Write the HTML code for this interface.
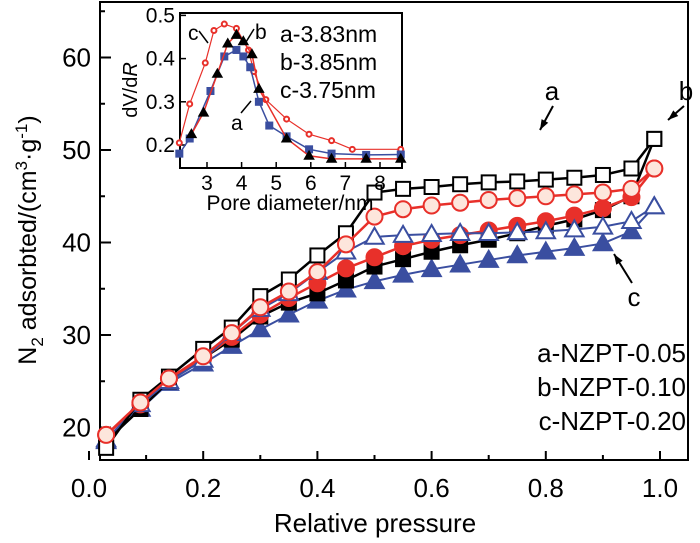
<!DOCTYPE html>
<html><head><meta charset="utf-8"><style>
body{margin:0;background:#fff}
svg{display:block;font-family:"Liberation Sans",Arial,sans-serif}
</style></head><body>
<svg id="c" width="700" height="543" viewBox="0 0 700 543"></svg>
<script>
const pressures=[0.03,0.09,0.14,0.2,0.25,0.3,0.35,0.4,0.45,0.5,0.55,0.6,0.65,0.7,0.75,0.8,0.85,0.9,0.95,0.99];
const aDes=[17.8,23,25.5,28.5,30.8,34.2,36,38.6,41,45.4,45.8,46,46.3,46.5,46.6,46.8,47,47.3,48,51.2];
const aAds=[18.5,22,25,27.5,29.5,32,33.5,34.5,35.9,37.4,38.2,39,39.7,40.3,41,41.8,42.5,43.5,45,51.2];
const bDes=[19.2,22.7,25.3,27.7,30.2,33,34.7,36.8,39.8,42.8,43.6,44,44.3,44.6,44.8,45,45.2,45.4,45.8,48];
const bAds=[19.2,22.5,25.3,27.5,29.8,32.2,34,35.6,37.2,38.4,39.6,40.3,40.8,41.3,41.8,42.3,42.9,43.7,44.9,48];
const cDes=[18.7,22.5,25,27.3,30.2,32.8,34.5,36.8,39,40.6,40.8,40.9,41,41,41.1,41.2,41.4,41.7,42.3,43.9];
const cAds=[18.5,22,24.8,26.9,28.8,30.6,32.2,33.7,34.9,35.8,36.5,37.1,37.6,38.1,38.6,39,39.4,39.9,41.2,43.9];
const xTicks=["0.0","0.2","0.4","0.6","0.8","1.0"];
const yTicks=[20,30,40,50,60];
const insA_x=[2.2,2.5,3.1,3.5,3.85,4.05,4.25,4.5,4.8,5.3,5.95,6.6,7.6,8.6];
const insA_y=[0.18,0.215,0.325,0.405,0.42,0.405,0.38,0.3,0.245,0.22,0.19,0.18,0.177,0.178];
const insB_x=[2.55,2.9,3.3,3.6,3.85,4.05,4.3,4.5,5.3,5.95,6.6,7.6,8.6];
const insB_y=[0.225,0.275,0.365,0.435,0.455,0.44,0.41,0.33,0.215,0.175,0.168,0.168,0.168];
const insC_x=[2.2,2.5,2.95,3.2,3.5,3.85,4.2,4.35,4.7,5.3,5.95,6.6,7.2,8.6];
const insC_y=[0.205,0.295,0.39,0.465,0.48,0.47,0.42,0.37,0.305,0.26,0.225,0.21,0.19,0.19];
const insXTicks=[3,4,5,6,7,8];
const insYTicks=[0.2,0.3,0.4,0.5];

const NS="http://www.w3.org/2000/svg";
const svg=document.getElementById('c');
function mk(tag,attrs,parent,name){const e=document.createElementNS(NS,tag);for(const k in attrs)e.setAttribute(k,attrs[k]);(parent||svg).appendChild(e);


return e;}
const X=v=>89+v*571, Y=v=>427.5-(v-20)*9.25;
const IX=v=>207+(v-3)*34.6, IY=v=>145-(v-0.2)*432;

mk('rect',{x:100,y:2,width:588,height:458,fill:'none',stroke:'#000','stroke-width':2},svg,'plot-frame');
xTicks.forEach((t,i)=>{const v=i*0.2;mk('line',{x1:X(v),x2:X(v),y1:460,y2:451,stroke:'#000','stroke-width':2},svg,'x-tick');
if(i<5)mk('line',{x1:X(v+0.1),x2:X(v+0.1),y1:460,y2:455,stroke:'#000','stroke-width':2},svg,'x-minor-tick');
const tx=mk('text',{x:X(v),y:497,'font-size':26,'text-anchor':'middle'},svg,'x-tick-label');tx.textContent=t;});
yTicks.forEach(v=>{mk('line',{x1:100,x2:111,y1:Y(v),y2:Y(v),stroke:'#000','stroke-width':2},svg,'y-tick');
mk('line',{x1:100,x2:105,y1:Y(v+5),y2:Y(v+5),stroke:'#000','stroke-width':2},svg,'y-minor-tick');
const tx=mk('text',{x:91,y:Y(v)+9,'font-size':26,'text-anchor':'end'},svg,'y-tick-label');tx.textContent=v;});
let t=mk('text',{x:375,y:532,'font-size':26,'text-anchor':'middle'},svg,'x-axis-title');t.textContent='Relative pressure';
t=mk('text',{x:0,y:0,'font-size':25,'text-anchor':'middle',transform:'translate(36,240) rotate(-90)'},svg,'y-axis-title');
t.innerHTML='N<tspan font-size="17" dy="7">2</tspan><tspan dy="-7"> adsorbted/(cm</tspan><tspan font-size="17" dy="-9">3</tspan><tspan dy="9">·g</tspan><tspan font-size="17" dy="-9">-1</tspan><tspan dy="9">)</tspan>';

function marker(g,type,x,y,stroke,fill,s){
 if(type==='sq')mk('rect',{x:x-s,y:y-s,width:2*s,height:2*s,fill,stroke,'stroke-width':2},g,'marker-square');
 else if(type==='ci')mk('circle',{cx:x,cy:y,r:s,fill,stroke,'stroke-width':2},g,'marker-circle');
 else mk('polygon',{points:`${x},${y-s*1.15} ${x-s*1.15},${y+s*0.85} ${x+s*1.15},${y+s*0.85}`,fill,stroke,'stroke-width':2},g,'marker-triangle');
}
function series(name,xs,ys,fx,fy,col,lc,type,fill,s,lw){
 const g=mk('g',{},svg,name);
 mk('polyline',{points:xs.map((x,i)=>fx(x)+','+fy(ys[i])).join(' '),fill:'none',stroke:lc,'stroke-width':lw},g,name+'-line');
 xs.forEach((x,i)=>marker(g,type,fx(x),fy(ys[i]),col,fill,s));
}
series('series-c-adsorption',pressures,cAds,X,Y,'#3a4ea0','#3a4ea0','tr','#3a4ea0',8,2);
series('series-a-adsorption',pressures,aAds,X,Y,'#000','#000','sq','#000',7,2.5);
series('series-b-adsorption',pressures,bAds,X,Y,'#e8302a','#e8302a','ci','#e8302a',8,2.5);
series('series-c-desorption',pressures,cDes,X,Y,'#3a4ea0','#3a4ea0','tr','#fff',8,2);
series('series-a-desorption',pressures,aDes,X,Y,'#000','#000','sq','#fff',7,2.5);
series('series-b-desorption',pressures,bDes,X,Y,'#e8302a','#e8302a','ci','#fde6dc',8,2.5);

function arrow(x1,y1,x2,y2,name){mk('line',{x1,y1,x2,y2,stroke:'#000','stroke-width':2},svg,name);
 const a=Math.atan2(y2-y1,x2-x1),L=11;
 mk('polygon',{points:`${x2},${y2} ${x2-L*Math.cos(a-0.35)},${y2-L*Math.sin(a-0.35)} ${x2-L*Math.cos(a+0.35)},${y2-L*Math.sin(a+0.35)}`,fill:'#000'},svg,name+'-head');}
t=mk('text',{x:552,y:100,'font-size':26,'text-anchor':'middle'},svg,'label-a');t.textContent='a';
arrow(553,106,540,130,'arrow-a');
t=mk('text',{x:686,y:100,'font-size':26,'text-anchor':'middle'},svg,'label-b');t.textContent='b';
arrow(684,106,668,120,'arrow-b');
t=mk('text',{x:634,y:306,'font-size':26,'text-anchor':'middle'},svg,'label-c');t.textContent='c';
arrow(632,283,614,254,'arrow-c');
['a-NZPT-0.05','b-NZPT-0.10','c-NZPT-0.20'].forEach((s,i)=>{t=mk('text',{x:686,y:362+i*34,'font-size':26,'text-anchor':'end'},svg,'legend-entry');t.textContent=s;});

mk('rect',{x:180,y:13,width:222,height:155,fill:'#fff',stroke:'#000','stroke-width':2},svg,'inset-frame');
insXTicks.forEach(v=>{mk('line',{x1:IX(v),x2:IX(v),y1:168,y2:162,stroke:'#000','stroke-width':1.5},svg,'inset-x-tick');
t=mk('text',{x:IX(v),y:190,'font-size':21,'text-anchor':'middle'},svg,'inset-x-tick-label');t.textContent=v;});
insYTicks.forEach(v=>{mk('line',{x1:180,x2:186,y1:IY(v),y2:IY(v),stroke:'#000','stroke-width':1.5},svg,'inset-y-tick');
t=mk('text',{x:175,y:IY(v)+7,'font-size':21,'text-anchor':'end'},svg,'inset-y-tick-label');t.textContent=v.toFixed(1);});
t=mk('text',{x:290,y:210,'font-size':21,'text-anchor':'middle'},svg,'inset-x-axis-title');t.textContent='Pore diameter/nm';
t=mk('text',{x:0,y:0,'font-size':20,'text-anchor':'middle',transform:'translate(137,90) rotate(-90)'},svg,'inset-y-axis-title');
t.innerHTML='dV/d<tspan font-style="italic">R</tspan>';
series('inset-series-c',insC_x,insC_y,IX,IY,'#e8302a','#e8302a','ci','#fff',2.5,1.2);
series('inset-series-a',insA_x,insA_y,IX,IY,'#3a4ea0','#3a4ea0','sq','#3a4ea0',3,1.5);
series('inset-series-b',insB_x,insB_y,IX,IY,'#000','#e8302a','tr','#000',3.5,1.5);
['a-3.83nm','b-3.85nm','c-3.75nm'].forEach((s,i)=>{t=mk('text',{x:280,y:42+i*28,'font-size':23},svg,'inset-legend-entry');t.textContent=s;});
t=mk('text',{x:188,y:40,'font-size':21},svg,'inset-label-c');t.textContent='c';
t=mk('text',{x:255,y:39,'font-size':21},svg,'inset-label-b');t.textContent='b';
t=mk('text',{x:231,y:130,'font-size':21},svg,'inset-label-a');t.textContent='a';
mk('line',{x1:199,y1:31,x2:208,y2:43,stroke:'#000','stroke-width':1.5},svg,'inset-arrow-c');
mk('line',{x1:254,y1:29,x2:246,y2:42,stroke:'#000','stroke-width':1.5},svg,'inset-arrow-b');
mk('line',{x1:241,y1:113,x2:251,y2:101,stroke:'#000','stroke-width':1.5},svg,'inset-arrow-a');
</script>
</body></html>
